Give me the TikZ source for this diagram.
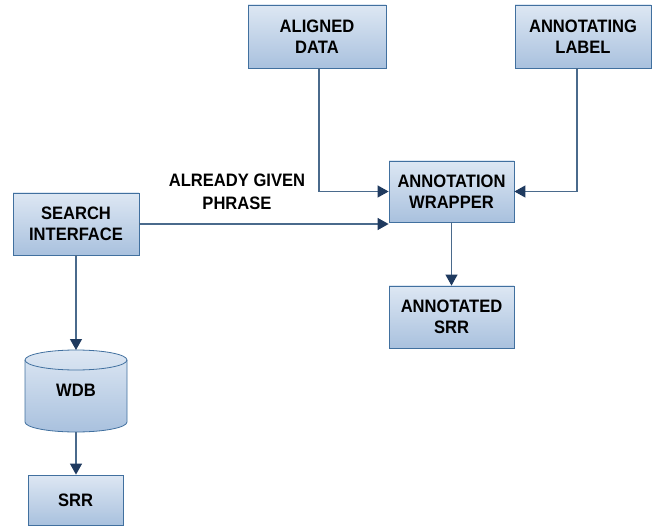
\documentclass[tikz,border=0pt]{standalone}
\usepackage{fontspec}
\setmainfont{Liberation Sans}[FakeStretch=0.92]
\usetikzlibrary{arrows.meta}
\definecolor{boxtop}{HTML}{DDE7F3}
\definecolor{boxbot}{HTML}{A9C1DE}
\definecolor{boxline}{HTML}{41709F}
\definecolor{linec}{HTML}{4A6A8C}
\definecolor{tipc}{HTML}{1F3A5F}
\begin{document}
\begin{tikzpicture}[x=1pt,y=-1pt,
  boxnode/.style={rectangle, draw=boxline, line width=0.8pt, top color=boxtop, bottom color=boxbot,
    font=\fontsize{18}{21.5}\selectfont\bfseries, align=center, inner sep=0pt},
  conn/.style={draw=linec, line width=1.1pt, -{Triangle[length=11pt,width=12pt,color=tipc]}},
  lbl/.style={font=\fontsize{18}{22.5}\selectfont\bfseries, inner sep=0pt}]
\useasboundingbox (0,0) rectangle (663,526);
\node[boxnode, minimum width=138pt, minimum height=63pt] (aligned) at (317,36.5) {ALIGNED\\DATA};
\node[boxnode, minimum width=136pt, minimum height=63pt] (annlabel) at (583,36.5) {ANNOTATING\\LABEL};
\node[boxnode, minimum width=125pt, minimum height=61pt] (wrapper) at (451.5,191.5) {ANNOTATION\\WRAPPER};
\node[boxnode, minimum width=126pt, minimum height=62pt] (search) at (76,224) {SEARCH\\INTERFACE};
\node[boxnode, minimum width=125pt, minimum height=62pt] (annsrr) at (451.5,317) {ANNOTATED\\SRR};
\node[boxnode, minimum width=95pt, minimum height=50pt] (srr) at (75.5,500) {SRR};
% cylinder WDB
\shade[top color=boxtop, bottom color=boxbot, draw=boxline, line width=0.8pt]
  (25,360) -- (25,422) arc[start angle=180, end angle=0, x radius=51, y radius=10]
  -- (127,360) arc[start angle=0, end angle=-180, x radius=51, y radius=10] -- cycle;
\draw[boxline, line width=0.8pt] (25,360) arc[start angle=180, end angle=0, x radius=51, y radius=10];
\coordinate (wdbtop) at (76,350);
\coordinate (wdbbot) at (76,432);
\node[lbl] (wdb) at (76,390) {WDB};
\node[lbl, align=center] (phrase) at (237,192) {ALREADY GIVEN\\PHRASE};
% connectors
\draw[conn] (aligned.south -| 319,0) |- (wrapper.west);
\draw[conn] (annlabel.south -| 577,0) |- (wrapper.east);
\draw[conn] (search.east) -- (search.east -| wrapper.west);
\draw[conn] (wrapper.south) -- (annsrr.north);
\draw[conn] (search.south) -- (wdbtop);
\draw[conn] (wdbbot) -- (srr.north -| wdbbot);
\end{tikzpicture}
\end{document}
